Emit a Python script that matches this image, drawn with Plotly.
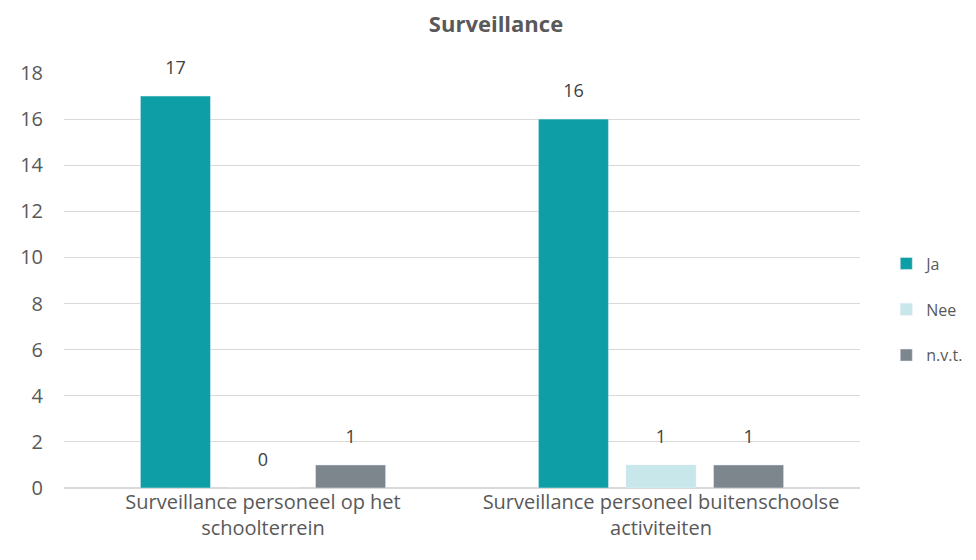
import plotly.graph_objects as go

categories = ["Surveillance personeel op het<br>schoolterrein",
              "Surveillance personeel buitenschoolse<br>activiteiten"]
series_names = ["Ja", "Nee", "n.v.t."]
ja_values = [17, 16]
nee_values = [0, 1]
nvt_values = [1, 1]
colors = ["#0E9FA6", "#C7E7EA", "#7D858D"]

fig = go.Figure()
for name, vals, col in zip(series_names, [ja_values, nee_values, nvt_values], colors):
    fig.add_trace(go.Bar(
        x=categories, y=vals, name=name, marker_color=col,
        offsetgroup=name, alignmentgroup="g",
        cliponaxis=False, legendgroup=name,
    ))
for name, vals in zip(series_names, [ja_values, nee_values, nvt_values]):
    fig.add_trace(go.Scatter(
        x=categories, y=vals, mode="markers+text",
        text=[str(v) for v in vals], textposition="top center",
        textfont=dict(size=18, color="#404040"),
        marker=dict(size=26, opacity=0, color="white"),
        offsetgroup=name, alignmentgroup="g",
        showlegend=False, hoverinfo="skip", cliponaxis=False,
    ))

fig.update_layout(
    width=976, height=560,
    margin=dict(l=54, r=124, t=65, b=80),
    paper_bgcolor="white", plot_bgcolor="white",
    font=dict(family="Open Sans, Lato, sans-serif", color="#595959", size=16),
    title=dict(text="<b>Surveillance</b>", x=0.5, xanchor="center", y=0.985, yanchor="top",
               font=dict(size=22, color="#595959")),
    barmode="group", bargap=0.34, bargroupgap=0.2,
    scattermode="group", scattergap=0.34,
    legend=dict(x=1.033, y=0.43, xanchor="left", yanchor="middle",
                tracegroupgap=22, font=dict(size=16, color="#595959")),
    showlegend=True,
)
fig.update_yaxes(range=[0, 18], dtick=2, showgrid=True, gridcolor="#D9D9D9",
                 zeroline=True, zerolinecolor="#D9D9D9", showline=False,
                 tickfont=dict(size=20, color="#595959"), ticklen=0, ticks="",
                 ticklabelstandoff=20)
fig.update_xaxes(showline=False, tickfont=dict(size=20, color="#595959"))

fig.write_html("out.html")
